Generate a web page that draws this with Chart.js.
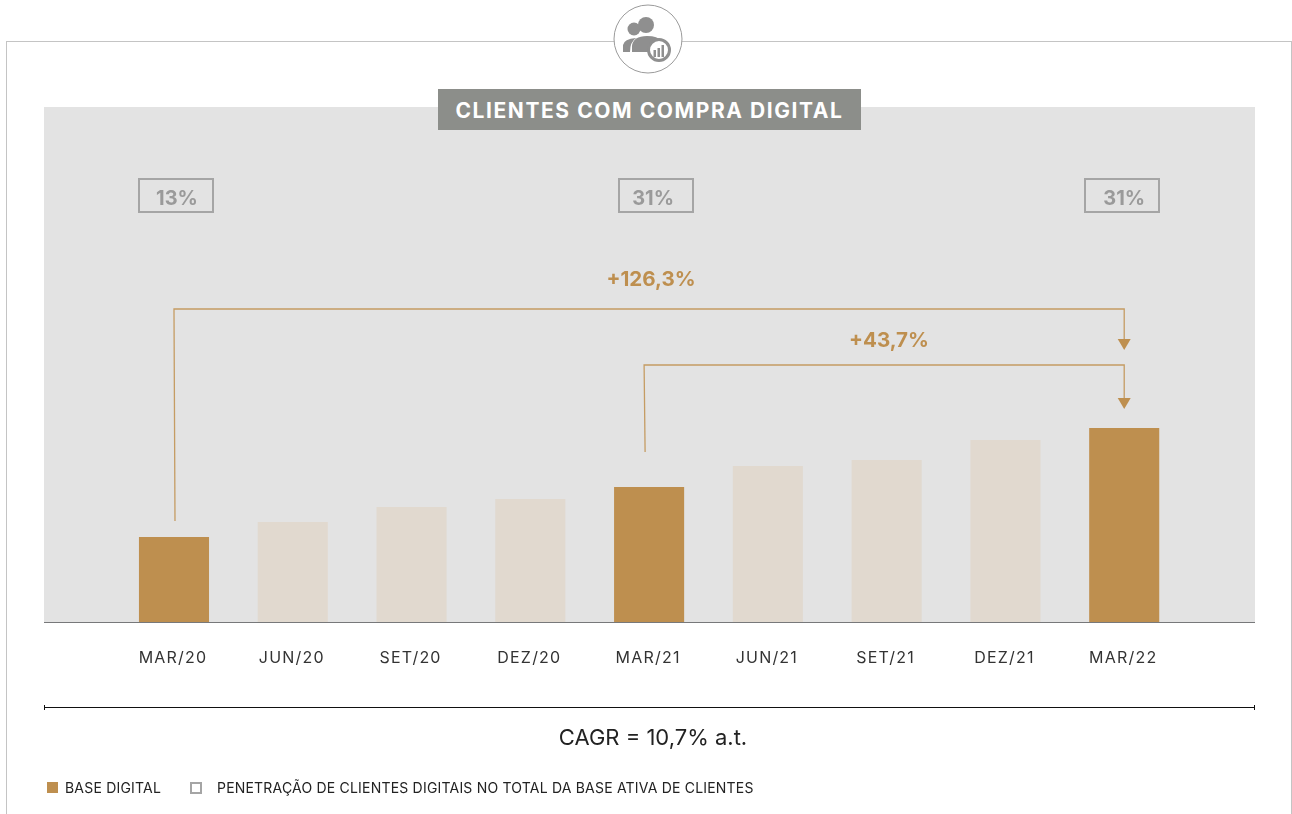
<!DOCTYPE html>
<html lang="pt">
<head>
<meta charset="utf-8">
<title>Clientes com compra digital</title>
<script src="https://cdn.jsdelivr.net/npm/chart.js@4"></script>
<style>
    html, body { margin: 0; padding: 0; background: #fff; }
    body { width: 1292px; height: 814px; position: relative; overflow: hidden; font-family: Inter, "Open Sans", sans-serif; }
    .abs { position: absolute; }
    #frame { left: 6px; top: 41px; width: 1284px; height: 790px; border: 1px solid #c4c4c4; }
    #panel { left: 44px; top: 107px; width: 1211px; height: 515px; background: #e3e3e3; }
    #baseline { left: 44px; top: 622px; width: 1211px; height: 1px; background: #77787a; }
    #title { left: 438px; top: 89px; width: 423px; height: 41px; line-height: 43px; background: #8c8e8a; color: #fff;
             text-align: center; font-size: 21px; font-weight: 700; letter-spacing: 1.57px; }
    #icon { left: 610px; top: 1px; }
    #rule { left: 44px; top: 707px; width: 1211px; height: 1px; background: #111; }
    .cap { top: 705px; width: 1px; height: 5px; background: #111; }
    #cagr { left: 453px; top: 724px; width: 400px; text-align: center; font-size: 22px; color: #222; }
    .legend { top: 779px; font-size: 14px; color: #222; letter-spacing: 0.2px; white-space: nowrap; }
    .swatch { box-sizing: border-box; width: 11px; height: 11px; top: 782px; }
    canvas { position: absolute; left: 0; top: 0; }
</style>
</head>
<body>
<div class="abs" id="frame"></div>
<svg class="abs" id="icon" width="76" height="76" viewBox="610 1 76 76">
    <circle cx="648" cy="39" r="34" fill="#fff" stroke="#9b9b9b" stroke-width="1"/>
    <circle cx="634" cy="29" r="6.5" fill="#8f8f8f"/>
    <circle cx="646" cy="25" r="8" fill="#8f8f8f"/>
    <path d="M623 52 V45 Q624 39 636 38 Q630 42 630 52 Z" fill="#8f8f8f"/>
    <path d="M632 52 V46 Q633 36 647 36 Q658 36 661 41 L652 52 Z" fill="#8f8f8f"/>
    <circle cx="659" cy="50" r="10.5" fill="#fff" stroke="#8f8f8f" stroke-width="3"/>
    <rect x="653.5" y="50" width="2.5" height="7" fill="#8f8f8f"/>
    <rect x="657.5" y="48" width="2.5" height="9" fill="#8f8f8f"/>
    <rect x="661.5" y="45" width="2.5" height="12" fill="#8f8f8f"/>
</svg>
<div class="abs" id="panel"></div>
<div class="abs" id="title">CLIENTES COM COMPRA DIGITAL</div>
<canvas id="barChart" width="1292" height="814"></canvas>
<div class="abs" id="baseline"></div>
<div class="abs" id="rule"></div>
<div class="abs cap" style="left:44px"></div>
<div class="abs cap" style="left:1254px"></div>
<div class="abs" id="cagr">CAGR = 10,7% a.t.</div>
<div class="abs swatch" style="left:47px;background:#be8f4f"></div>
<div class="abs legend" style="left:65px">BASE DIGITAL</div>
<div class="abs swatch" style="left:190px;top:782px;width:12px;height:12px;border:2px solid #a5a5a5"></div>
<div class="abs legend" style="left:217px">PENETRAÇÃO DE CLIENTES DIGITAIS NO TOTAL DA BASE ATIVA DE CLIENTES</div>

<script>
// Data (no scale printed, so index = bar height)
const periods = ['MAR/20', 'JUN/20', 'SET/20', 'DEZ/20', 'MAR/21', 'JUN/21', 'SET/21', 'DEZ/21', 'MAR/22'];
const baseDigital = [85, 100, 115, 123, 135, 156, 162, 182, 194];
const highlighted = [0, 4, 8];
const penetration = ['13%', '31%', '31%'];
const growthLabels = ['+126,3%', '+43,7%'];
const growthFrom = [0, 4];

const gold = '#be8f4f';
const beige = '#e1d9cf';
const colors = periods.map((_, i) => (highlighted.includes(i) ? gold : beige));

// Penetration boxes, growth brackets and arrows
const annotations = {
    id: 'annotations',
    beforeDraw(chart) {
        chart.ctx.letterSpacing = '1.2px'; // tick labels are spaced out in the original
    },
    afterDatasetsDraw(chart) {
        const { ctx, scales: { x, y } } = chart;
        const last = x.getPixelForValue(periods.length - 1);
        ctx.save();
        ctx.letterSpacing = '0px';

        // penetration boxes
        ctx.textAlign = 'center';
        ctx.textBaseline = 'middle';
        ctx.font = '700 20px Inter';
        const boxShift = [2, 6.5, -2];
        const textShift = [3, 4, 0];
        highlighted.forEach((idx, i) => {
            const cx = x.getPixelForValue(idx);
            ctx.strokeStyle = '#a5a5a5';
            ctx.lineWidth = 2;
            ctx.strokeRect(Math.round(cx + boxShift[i]) - 37, 179, 74, 33);
            ctx.fillStyle = '#9a9a9a';
            ctx.fillText(penetration[i], cx + textShift[i], 199);
        });

        // growth brackets
        const tops = [309, 365];
        const tips = [350, 409];
        const startShift = [0, -5];
        const riseAboveBar = [16, 35];
        const labelX = [651, 889];
        const labelY = [280, 341];
        growthFrom.forEach((idx, i) => {
            const start = x.getPixelForValue(idx) + startShift[i];
            const startY = y.getPixelForValue(baseDigital[idx]) - riseAboveBar[i];
            ctx.strokeStyle = '#c59c63';
            ctx.lineWidth = 1.3;
            ctx.beginPath();
            ctx.moveTo(start + 1, startY);
            ctx.lineTo(start, tops[i]);
            ctx.lineTo(last, tops[i]);
            ctx.lineTo(last, tips[i] - 8);
            ctx.stroke();

            ctx.fillStyle = gold;
            ctx.beginPath();
            ctx.moveTo(last - 6.5, tips[i] - 11);
            ctx.lineTo(last + 6.5, tips[i] - 11);
            ctx.lineTo(last, tips[i]);
            ctx.closePath();
            ctx.fill();

            ctx.font = '700 20.6px Inter';
            ctx.fillText(growthLabels[i], labelX[i], labelY[i]);
        });
        ctx.restore();
    }
};

new Chart(document.getElementById('barChart').getContext('2d'), {
    type: 'bar',
    data: {
        labels: periods,
        datasets: [{
            data: baseDigital,
            backgroundColor: colors,
            borderWidth: 0,
            barPercentage: 1,
            categoryPercentage: 0.59
        }]
    },
    options: {
        responsive: false,
        animation: false,
        layout: { padding: { left: 114.6, right: 108.4, top: 107, bottom: 132 } },
        plugins: {
            legend: { display: false },
            title: { display: false },
            tooltip: { enabled: false }
        },
        scales: {
            x: {
                afterFit: s => { s.height = 60; },
                grid: { display: false, drawTicks: false },
                border: { display: false },
                ticks: {
                    color: '#333',
                    padding: 27,
                    labelOffset: -1,
                    autoSkip: false,
                    maxRotation: 0,
                    font: { family: 'Inter', size: 16 }
                }
            },
            y: {
                display: false,
                beginAtZero: true,
                min: 0,
                max: 515,
                grid: { display: false }
            }
        }
    },
    plugins: [annotations]
});
</script>
</body>
</html>
